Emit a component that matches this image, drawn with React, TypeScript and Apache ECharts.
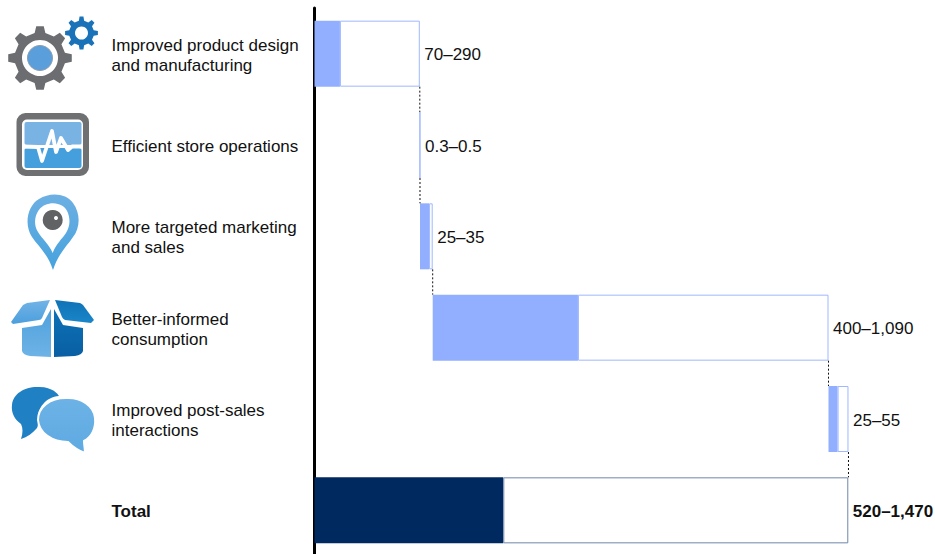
import React, { useEffect, useRef } from "react";
import * as echarts from "echarts";

const categories = [
  "Improved product design\nand manufacturing",
  "Efficient store operations",
  "More targeted marketing\nand sales",
  "Better-informed\nconsumption",
  "Improved post-sales\ninteractions",
  "Total",
];
const lowValues = [70, 0.3, 25, 400, 25, 520];
const highValues = [290, 0.5, 35, 1090, 55, 1470];
const rangeLabels = ["70–290", "0.3–0.5", "25–35", "400–1,090", "25–55", "520–1,470"];

const FONT = '"Liberation Sans", Arial, sans-serif';
const FONT_SIZE = 17;
const LIGHT_FILL = "#92afff";
const LIGHT_EDGE = "#9fb8ff";
const NAVY_FILL = "#00295f";
const NAVY_EDGE = "#6f86ab";
const BAR_HEIGHT = 66;

// Each step starts where the previous one ended; the total starts at zero again.
const lastIndex = categories.length - 1;
const offsets: number[] = [];
highValues.reduce((sum, high, i) => {
  offsets.push(i === lastIndex ? 0 : sum);
  return sum + high;
}, 0);
const stepEnds = offsets.slice(0, lastIndex).map((start, i) => start + highValues[i]);

// Builds an SVG path for a toothed wheel around (cx, cy).
function gearPath(cx: number, cy: number, outer: number, root: number, teeth: number) {
  const step = (Math.PI * 2) / teeth;
  const pts: string[] = [];
  for (let i = 0; i < teeth; i++) {
    const a = -Math.PI / 2 + i * step;
    const corners: [number, number][] = [
      [a - step * 0.27, root],
      [a - step * 0.15, outer],
      [a + step * 0.15, outer],
      [a + step * 0.27, root],
    ];
    corners.forEach(([t, r]) => {
      const x = (cx + r * Math.cos(t)).toFixed(2);
      const y = (cy + r * Math.sin(t)).toFixed(2);
      pts.push(`${pts.length ? "L" : "M"}${x} ${y}`);
    });
  }
  return pts.join(" ") + " Z";
}

const vertical = (top: string, bottom: string) => ({
  type: "linear", x: 0, y: 0, x2: 0, y2: 1,
  colorStops: [{ offset: 0, color: top }, { offset: 1, color: bottom }],
});

const iconPaths: Record<string, string> = {
  bigGear: gearPath(40, 58, 32, 25.5, 8),
  smallGear: gearPath(81.5, 33, 16.5, 12.5, 8),
  pinOuter: "M53 270 C48 254 38 246 32 237 C24 225 27 206 39 199 C50 192 66 193 73 203 C81 214 80 228 73 237 C67 246 58 254 53 270 Z",
  pinInner: "M52.7 253 C49 244 42 239 38 232 C32 222 36 209 45 205 C54 201 65 204 68 213 C71 222 69 228 66 233 C62 239 56 244 52.7 253 Z",
  flapLeft: "M11 322 L23 305 Q25 304 27 303 L50 300 L42 318 Q41 320 39 320 L13 324 Z",
  flapRight: "M55 300 L80 303 Q82 304 83 305 L94 320 L91 323 L65 320 Q63 319 62 317 Z",
  faceLeft: "M22 328 L42 325 L51 309 L51 357 L30 356 Q23 355 22 351 Z",
  faceRight: "M54 309 L63 325 L83 328 L83 351 Q82 355 75 356 L54 357 Z",
  bubbleDark: "M37 387 C52 386 58 394 59 396 C46 397 37 408 38 420 C38 424 38 426 37 428 C33 433 27 437 21 439 C23 433 23 428 21 424 C14 419 11 412 12 405 C13 394 24 387 37 387 Z",
  bubbleLight: "M66 398 C81 397 94 406 95 418 C96 428 92 437 84 441 C84 445 85 449 85 453 C79 451 73 447 68 442 C52 442 39 433 38 420 C38 407 50 398 66 398 Z",
};
Object.entries(iconPaths).forEach(([name, d]) => {
  echarts.graphic.registerShape(name, echarts.graphic.extendPath(d, {}));
});

const iconElements = [
  // wheels
  { type: "bigGear", style: { fill: "#6c6d70" } },
  { type: "circle", shape: { cx: 40, cy: 58, r: 18 }, style: { fill: "#ffffff" } },
  { type: "circle", shape: { cx: 40, cy: 58, r: 12.5 }, style: { fill: "#5a9edb", stroke: "#8d9bad", lineWidth: 1 } },
  { type: "smallGear", style: { fill: "#1a72b8" } },
  { type: "circle", shape: { cx: 81.5, cy: 33, r: 6.5 }, style: { fill: "#ffffff" } },
  // monitor
  { type: "rect", shape: { x: 16.5, y: 113, width: 72.5, height: 63, r: 9 }, style: { fill: "#6f7072" } },
  { type: "rect", shape: { x: 22, y: 119.5, width: 61, height: 50.5, r: 5 }, style: { fill: "#ffffff" } },
  { type: "rect", shape: { x: 24.5, y: 122, width: 57, height: 23, r: 2 }, style: { fill: "#79b3e3" } },
  { type: "rect", shape: { x: 24.5, y: 148, width: 57, height: 20, r: 2 }, style: { fill: "#459fdd" } },
  {
    type: "polyline",
    shape: { points: [[22, 146.5], [38, 147], [42, 161], [52, 131], [56, 152], [61, 138], [68, 150], [72, 146.5], [83, 146.5]] },
    style: { stroke: "#ffffff", lineWidth: 3.8, fill: "none", lineJoin: "round" },
  },
  // map pin
  { type: "pinOuter", style: { fill: vertical("#6db0e3", "#46a2dd") } },
  { type: "pinInner", style: { fill: "#ffffff" } },
  { type: "circle", shape: { cx: 52.7, cy: 220, r: 10 }, style: { fill: "#616264" } },
  { type: "circle", shape: { cx: 56, cy: 218, r: 2 }, style: { fill: "#ffffff" } },
  // open box
  { type: "flapLeft", style: { fill: vertical("#72b3e6", "#4c9fdd") } },
  { type: "flapRight", style: { fill: vertical("#0f72b6", "#1a86c9") } },
  { type: "faceLeft", style: { fill: vertical("#4fa0dc", "#6db3e6") } },
  { type: "faceRight", style: { fill: vertical("#0c71b6", "#0a5fa3") } },
  // speech bubbles
  { type: "bubbleDark", style: { fill: "#1f80c4" } },
  { type: "bubbleLight", style: { fill: vertical("#6cb2e6", "#5eaae2"), stroke: "#ffffff", lineWidth: 2 } },
];

// Dotted step lines running from the end of one bar down to the top of the next.
function renderConnector(params: any, api: any) {
  const end = api.coord([api.value(0), api.value(1)]);
  const band = api.size([0, 1])[1];
  return {
    type: "line",
    shape: {
      x1: end[0],
      y1: end[1] + BAR_HEIGHT / 2,
      x2: end[0],
      y2: end[1] + band - BAR_HEIGHT / 2,
    },
    style: { stroke: "#111111", lineWidth: 1, lineDash: [2, 2] },
  };
}

export default function App() {
  const ref = useRef<HTMLDivElement>(null);

  useEffect(() => {
    document.body.style.margin = "0";
    const chart = echarts.init(ref.current, undefined, { renderer: "svg" });
    chart.setOption({
      animation: false,
      backgroundColor: "#ffffff",
      textStyle: { fontFamily: FONT },
      // The axis runs off the bottom of the canvas, so the grid must not be fitted inside it.
      grid: { left: 314.5, top: 8, width: 581, height: 548, outerBoundsMode: "none" },
      xAxis: { type: "value", min: 0, max: 1600, show: false },
      yAxis: {
        type: "category",
        inverse: true,
        data: categories,
        offset: 1,
        axisLine: { show: true, lineStyle: { color: "#000000", width: 3 } },
        axisTick: { show: false },
        axisLabel: {
          align: "left",
          margin: 202,
          fontFamily: FONT,
          fontSize: FONT_SIZE,
          lineHeight: 20,
          color: "#111111",
          padding: [3, 0, 0, 0],
          formatter: (label: string) =>
            label === categories[lastIndex] ? `{total|${label}}` : label,
          rich: { total: { fontWeight: "bold", fontSize: FONT_SIZE, fontFamily: FONT, color: "#111111" } },
        },
      },
      graphic: { elements: iconElements },
      series: [
        {
          name: "Offset",
          type: "bar",
          stack: "range",
          barWidth: BAR_HEIGHT,
          silent: true,
          itemStyle: { color: "transparent" },
          data: offsets,
        },
        {
          name: "Low",
          type: "bar",
          stack: "range",
          barWidth: BAR_HEIGHT,
          data: lowValues.map((value, i) => ({
            value,
            itemStyle: i === lastIndex ? { color: NAVY_FILL } : { color: LIGHT_FILL },
          })),
        },
        {
          name: "High",
          type: "bar",
          stack: "range",
          barWidth: BAR_HEIGHT,
          data: highValues.map((high, i) => ({
            value: +(high - lowValues[i]).toFixed(2),
            itemStyle: {
              color: "#ffffff",
              borderColor: i === lastIndex ? NAVY_EDGE : LIGHT_EDGE,
              borderWidth: 1,
            },
            label: {
              show: true,
              position: "right",
              distance: 4.5,
              offset: [0, 1],
              formatter: rangeLabels[i],
              fontFamily: FONT,
              fontSize: FONT_SIZE,
              color: "#111111",
              fontWeight: i === lastIndex ? "bold" : "normal",
            },
          })),
        },
        {
          name: "Connectors",
          type: "custom",
          renderItem: renderConnector,
          encode: { x: 0, y: 1 },
          z: 5,
          silent: true,
          data: stepEnds.map((end, i) => [end, i]),
        },
      ],
    });
    return () => chart.dispose();
  }, []);

  return <div ref={ref} style={{ width: 935, height: 554 }} />;
}
